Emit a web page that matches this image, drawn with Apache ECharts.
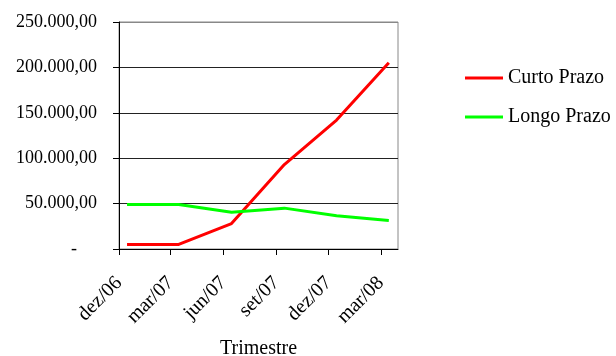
<!DOCTYPE html>
<html>
<head>
<meta charset="utf-8">
<script src="https://cdn.jsdelivr.net/npm/echarts@6/dist/echarts.min.js"></script>
<style>
  html, body { margin: 0; padding: 0; background: #fff; }
  #chart { width: 616px; height: 356px; }
</style>
</head>
<body>
<div id="chart"></div>
<script>
// Quarterly balances (R$), sampled mid-month
const pointDates = ['2006-12-15', '2007-03-15', '2007-06-15', '2007-09-15', '2007-12-15', '2008-03-15'];
const curtoPrazo = [5000, 5000, 28000, 93000, 142000, 205000];
const longoPrazo = [49000, 49000, 40500, 45000, 36500, 31500];

// Quarter ticks along the date axis
const tickDates = ['2006-12-01', '2007-03-01', '2007-06-01', '2007-09-01', '2007-12-01', '2008-03-01'];
const tickLabels = ['dez/06', 'mar/07', 'jun/07', 'set/07', 'dez/07', 'mar/08'];
const axisStart = '2006-12-01';
const axisEnd = '2008-03-31';

// Day offset from the start of the axis
function dayOf(s) {
  const p = s.split('-').map(Number);
  const q = axisStart.split('-').map(Number);
  return Math.round((Date.UTC(p[0], p[1] - 1, p[2]) - Date.UTC(q[0], q[1] - 1, q[2])) / 86400000);
}
const tickDays = tickDates.map(dayOf);

function brNumber(v) {
  if (v === 0) return '{dash|-}';
  const int = Math.round(v).toString().replace(/\B(?=(\d{3})+(?!\d))/g, '.');
  return int + ',00';
}

const font = '"Liberation Serif", "Times New Roman", serif';
const chart = echarts.init(document.getElementById('chart'), null, { renderer: 'canvas' });

chart.setOption({
  animation: false,
  backgroundColor: '#fff',
  textStyle: { fontFamily: font },
  grid: {
    left: 119, top: 22, right: 218, bottom: 107,
    outerBoundsMode: 'none',
    containLabel: false,
    show: true, borderColor: '#888', borderWidth: 1, backgroundColor: 'transparent'
  },
  legend: {
    orient: 'vertical',
    left: 465, top: 68, padding: 0,
    itemWidth: 38, itemHeight: 3, itemGap: 19,
    icon: 'rect',
    textStyle: { fontFamily: font, fontSize: 20, color: '#000' },
    data: ['Curto Prazo', 'Longo Prazo']
  },
  xAxis: {
    type: 'value',
    min: 0,
    max: dayOf(axisEnd),
    name: 'Trimestre',
    nameLocation: 'middle',
    nameGap: 90,
    nameTextStyle: { fontFamily: font, fontSize: 20, color: '#000' },
    axisLine: { show: true, lineStyle: { color: '#000', width: 1 } },
    axisTick: { show: true, length: 6, customValues: tickDays, lineStyle: { color: '#000' } },
    axisLabel: {
      customValues: tickDays,
      rotate: 45,
      margin: 31,
      fontFamily: font,
      fontSize: 20,
      color: '#000',
      formatter: function (v) {
        const i = tickDays.indexOf(v);
        return i >= 0 ? tickLabels[i] : '';
      }
    },
    splitLine: { show: false }
  },
  yAxis: {
    type: 'value',
    min: 0, max: 250000, interval: 50000,
    axisLine: { show: true, lineStyle: { color: '#000', width: 1 } },
    axisTick: { show: true, length: 6, lineStyle: { color: '#000' } },
    axisLabel: {
      margin: 22,
      fontFamily: font,
      fontSize: 18,
      color: '#000',
      formatter: brNumber,
      rich: { dash: { fontFamily: font, fontSize: 18, color: '#000', padding: [0, 20, 0, 0] } }
    },
    splitLine: { show: true, lineStyle: { color: ['#222', '#222', '#222', '#222', '#222', '#888'], width: 1 } }
  },
  series: [
    {
      name: 'Curto Prazo', type: 'line',
      data: pointDates.map((d, i) => [dayOf(d), curtoPrazo[i]]),
      showSymbol: false, symbol: 'none',
      lineStyle: { color: '#ff0000', width: 3 },
      itemStyle: { color: '#ff0000' }
    },
    {
      name: 'Longo Prazo', type: 'line',
      data: pointDates.map((d, i) => [dayOf(d), longoPrazo[i]]),
      showSymbol: false, symbol: 'none',
      lineStyle: { color: '#00ff00', width: 3 },
      itemStyle: { color: '#00ff00' }
    }
  ]
});
</script>
</body>
</html>
